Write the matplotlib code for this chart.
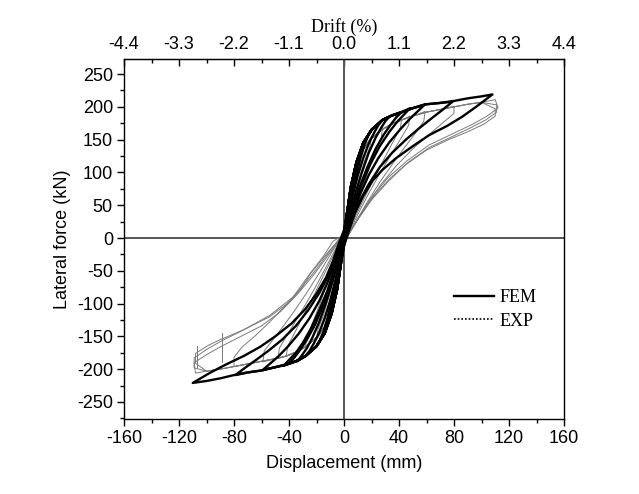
import matplotlib
matplotlib.use("Agg")
import matplotlib.pyplot as plt
from matplotlib.lines import Line2D
from matplotlib.ticker import MultipleLocator, FormatStrFormatter

# ---------------- FEM data ----------------
fem_env_pos_x = [2, 5, 9, 14, 20, 28, 35, 42, 50, 60, 70, 80, 90, 100]
fem_env_pos_y = [35, 78, 115, 145, 165, 180, 187, 192, 198, 204, 206, 209, 213, 216]
fem_env_neg_x = [-2, -5, -9, -14, -20, -28, -35, -42, -50, -60, -70, -80, -90, -100]
fem_env_neg_y = [-35, -78, -115, -145, -165, -180, -188, -193, -197, -202, -205, -209, -214, -218]

fem_tip_pos_x = [10, 20, 28, 33, 42, 48, 59, 79, 108]
fem_tip_pos_y = [118, 165, 180, 185, 192, 198, 204, 208, 219]
fem_tip_neg_x = [-10, -20, -28, -34, -40, -44, -59, -79, -110]
fem_tip_neg_y = [-118, -165, -180, -188, -191, -195, -201, -209, -221]

fem_unl_pos_x = [
    [8, 6, 4, 2, 0],
    [18, 15, 12, 9, 6, 3, 0],
    [25, 22, 18, 14, 10, 6, 3, 0],
    [30, 27, 23, 18, 13, 8, 4, 1, 0],
    [38, 34, 29, 23, 17, 11, 6, 2, 0],
    [44, 39, 33, 26, 19, 13, 8, 4, 0],
    [54, 48, 41, 33, 25, 18, 12, 7, 3, 0],
    [72, 64, 55, 45, 35, 26, 18, 11, 6, 2, 0],
    [96, 86, 75, 62, 50, 38, 28, 21, 14, 8, 4, 0],
]
fem_unl_pos_y = [
    [100, 78, 52, 24, -2],
    [158, 143, 122, 96, 66, 34, 0],
    [172, 161, 144, 122, 95, 62, 32, 2],
    [178, 168, 153, 130, 100, 66, 34, 8, -5],
    [184, 173, 158, 136, 108, 76, 44, 14, -6],
    [189, 178, 162, 140, 112, 82, 52, 24, -8],
    [194, 182, 166, 146, 122, 96, 68, 40, 14, -10],
    [196, 183, 168, 150, 130, 108, 82, 55, 30, 5, -12],
    [200, 185, 171, 157, 140, 122, 104, 88, 64, 38, 14, -12],
]
fem_unl_neg_x = [
    [-8, -6, -4, -2, 0],
    [-18, -15, -12, -9, -6, -3, 0],
    [-25, -22, -18, -14, -10, -6, -3, 0],
    [-31, -27, -23, -18, -13, -8, -4, 0],
    [-36, -32, -27, -21, -15, -10, -5, -2, 0],
    [-40, -35, -30, -24, -18, -12, -7, -3, 0],
    [-54, -48, -41, -33, -25, -18, -12, -7, -3, 0],
    [-72, -64, -55, -45, -35, -26, -18, -11, -6, -2, 0],
    [-97, -85, -73, -61, -50, -38, -28, -20, -13, -8, -4, 0],
]
fem_unl_neg_y = [
    [-100, -78, -52, -24, 2],
    [-158, -143, -122, -96, -66, -34, 0],
    [-172, -161, -144, -122, -95, -62, -32, 2],
    [-180, -168, -152, -128, -98, -64, -32, 4],
    [-182, -171, -155, -132, -102, -70, -38, -10, 5],
    [-186, -175, -160, -138, -110, -80, -48, -18, 6],
    [-192, -181, -166, -146, -122, -96, -68, -40, -14, 8],
    [-198, -186, -172, -155, -134, -110, -84, -56, -30, -5, 10],
    [-205, -192, -180, -166, -150, -130, -108, -85, -60, -35, -10, 12],
]

# ---------------- EXP data ----------------
exp_env_pos_x = [2, 5, 9, 14, 20, 28, 35, 42, 50, 60, 70, 80, 90, 100]
exp_env_pos_y = [30, 70, 108, 135, 152, 166, 174, 180, 186, 192, 196, 200, 204, 207]
exp_env_neg_x = [-2, -5, -9, -14, -20, -28, -35, -42, -50, -60, -70, -80, -90, -100]
exp_env_neg_y = [-30, -70, -108, -135, -152, -166, -174, -180, -184, -188, -192, -196, -200, -203]

exp_tip_pos_x = [20, 28, 42, 48, 59, 80, 110, 111, 110]
exp_tip_pos_y = [155, 168, 182, 186, 193, 201, 211, 203, 197]
exp_tip_neg_x = [-20, -28, -42, -48, -59, -80, -108, -109, -108]
exp_tip_neg_y = [-155, -166, -180, -184, -189, -196, -206, -198, -191]

exp_unl_pos_x = [
    [19, 15, 11, 7, 3, 0],
    [27, 23, 18, 13, 8, 3, 0],
    [41, 36, 30, 23, 16, 9, 3, 0],
    [47, 42, 35, 27, 19, 11, 4, 0],
    [58, 52, 44, 35, 26, 17, 9, 3, 0],
    [80, 72, 62, 50, 38, 27, 17, 8, 2, 0],
    [112, 104, 94, 80, 62, 46, 32, 20, 10, 3, 0],
    [111, 103, 92, 78, 62, 47, 33, 21, 11, 4, 0],
    [110, 102, 90, 76, 60, 45, 32, 20, 10, 3, 0],
]
exp_unl_pos_y = [
    [140, 118, 90, 58, 25, 0],
    [152, 132, 105, 75, 45, 15, -3],
    [168, 148, 124, 96, 66, 36, 8, -6],
    [172, 154, 130, 102, 72, 40, 10, -6],
    [178, 160, 138, 112, 85, 55, 26, 4, -8],
    [190, 176, 158, 136, 110, 82, 52, 22, 0, -10],
    [198, 186, 174, 160, 142, 118, 92, 62, 30, 5, -10],
    [192, 180, 168, 154, 138, 116, 90, 62, 32, 8, -8],
    [186, 174, 162, 150, 134, 112, 86, 58, 28, 4, -8],
]
exp_unl_neg_x = [
    [-19, -15, -11, -7, -3, 0],
    [-27, -23, -18, -13, -8, -3, 0],
    [-41, -36, -30, -23, -16, -9, -3, 0],
    [-47, -42, -35, -27, -19, -11, -4, 0],
    [-58, -52, -44, -35, -26, -17, -9, -3, 0],
    [-80, -74, -65, -54, -43, -32, -21, -11, -3, 0],
    [-109, -100, -90, -75, -60, -46, -34, -22, -11, -3, 0],
    [-109, -100, -90, -73, -54, -40, -32, -25, -15, -6, 0],
    [-108, -99, -90, -73, -54, -37, -25, -15, -8, 0],
]
exp_unl_neg_y = [
    [-140, -118, -90, -58, -25, 0],
    [-150, -130, -103, -73, -43, -13, 3],
    [-165, -145, -120, -92, -62, -32, -6, 5],
    [-168, -150, -126, -98, -68, -36, -8, 5],
    [-172, -156, -134, -108, -80, -50, -22, -2, 6],
    [-182, -166, -150, -128, -104, -78, -50, -22, 0, 8],
    [-190, -178, -166, -150, -134, -112, -86, -56, -25, -2, 8],
    [-183, -170, -158, -140, -120, -98, -80, -56, -30, -8, 6],
    [-176, -164, -155, -140, -118, -90, -55, -28, -5, 5],
]
exp_spike_x = [[-107, -107, -107], [-89, -89, -89]]
exp_spike_y = [[-197, -165, -192], [-189, -145, -186]]

# axis ticks
x_ticks = [-160, -120, -80, -40, 0, 40, 80, 120, 160]
y_ticks = [-250, -200, -150, -100, -50, 0, 50, 100, 150, 200, 250]
drift_ticks = [-4.4, -3.3, -2.2, -1.1, 0.0, 1.1, 2.2, 3.3, 4.4]


def build_loop(env_px, env_py, env_nx, env_ny, tpx, tpy, tnx, tny, upx, upy, unx, uny):
    xs, ys = [], []
    for ex, ey in zip(env_px, env_py):
        if ex < tpx - 2:
            xs.append(ex); ys.append(ey)
    xs.append(tpx); ys.append(tpy)
    xs += upx; ys += upy
    for ex, ey in zip(env_nx, env_ny):
        if ex > tnx + 2:
            xs.append(ex); ys.append(ey)
    xs.append(tnx); ys.append(tny)
    xs += unx; ys += uny
    xs.append(xs[0]); ys.append(ys[0])
    return xs, ys


plt.rcParams['font.family'] = ['Liberation Sans', 'DejaVu Sans']
plt.rcParams['axes.unicode_minus'] = False
fig = plt.figure(figsize=(6.39, 4.94), dpi=100)
ax = fig.add_axes([124 / 639, 1 - 419 / 494, 440 / 639, 360 / 494])

# EXP loops
for i in range(len(exp_tip_pos_x)):
    xs, ys = build_loop(exp_env_pos_x, exp_env_pos_y, exp_env_neg_x, exp_env_neg_y,
                        exp_tip_pos_x[i], exp_tip_pos_y[i], exp_tip_neg_x[i], exp_tip_neg_y[i],
                        exp_unl_pos_x[i], exp_unl_pos_y[i], exp_unl_neg_x[i], exp_unl_neg_y[i])
    ax.plot(xs, ys, color='#7a7a7a', lw=0.7, zorder=2)
for sx, sy in zip(exp_spike_x, exp_spike_y):
    ax.plot(sx, sy, color='#7a7a7a', lw=0.7, zorder=2)

# FEM loops
for i in range(len(fem_tip_pos_x)):
    xs, ys = build_loop(fem_env_pos_x, fem_env_pos_y, fem_env_neg_x, fem_env_neg_y,
                        fem_tip_pos_x[i], fem_tip_pos_y[i], fem_tip_neg_x[i], fem_tip_neg_y[i],
                        fem_unl_pos_x[i], fem_unl_pos_y[i], fem_unl_neg_x[i], fem_unl_neg_y[i])
    ax.plot(xs, ys, color='black', lw=1.7, zorder=3, solid_joinstyle='round')

ax.axhline(0, color='#555555', lw=1.4, zorder=1)
ax.axvline(0, color='#555555', lw=1.4, zorder=1)

ax.set_xlim(-160, 160)
ax.set_ylim(-276, 273)
ax.set_xticks(x_ticks)
ax.set_yticks(y_ticks)
ax.xaxis.set_minor_locator(MultipleLocator(20))
ax.yaxis.set_minor_locator(MultipleLocator(25))
ax.tick_params(axis='both', which='major', direction='out', length=5, width=1,
               labelsize=13, top=False, right=False, pad=3)
ax.tick_params(axis='both', which='minor', direction='out', length=3, width=1,
               top=False, right=False)
for s in ax.spines.values():
    s.set_linewidth(1.0)

ax.set_xlabel('Displacement (mm)', fontsize=13, labelpad=6)
ax.set_ylabel('Lateral force (kN)', fontsize=13, labelpad=4)

sec = ax.secondary_xaxis('top', functions=(lambda d: d * 4.4 / 160, lambda p: p * 160 / 4.4))
sec.set_xticks(drift_ticks)
sec.xaxis.set_major_formatter(FormatStrFormatter('%.1f'))
sec.xaxis.set_minor_locator(MultipleLocator(0.55))
sec.tick_params(which='major', direction='in', length=5, width=1, labelsize=13, pad=4)
sec.tick_params(which='minor', direction='in', length=3, width=1)
sec.set_xlabel('Drift (%)', fontsize=13, family=['Liberation Serif'], labelpad=3)

handles = [Line2D([], [], color='black', lw=1.7),
           Line2D([], [], color='black', lw=1.2, linestyle=(0, (1, 1.2)))]
leg = ax.legend(handles, ['FEM', 'EXP'], loc='upper left', bbox_to_anchor=(0.73, 0.385),
                frameon=False, handlelength=2.2, handletextpad=0.3, labelspacing=0.35,
                borderpad=0, prop={'family': 'Liberation Serif', 'size': 13})

fig.savefig('out.png', dpi=100)
